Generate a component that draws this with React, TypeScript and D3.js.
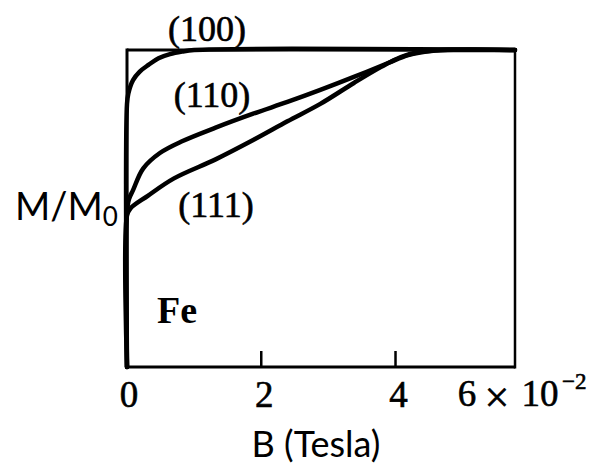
import React from "react";
import * as d3 from "d3";

// Data (B in units of 10^-2 Tesla, M/M0 dimensionless)
const B100 = [0, 0, 0.02, 0.09, 0.19, 0.32, 0.47, 0.64, 0.82, 1.0, 5.78];
const M100 = [0, 0.83, 0.863, 0.905, 0.932, 0.953, 0.974, 0.987, 0.995, 1.0, 1.0];

const B110 = [0, 0, 0.03, 0.09, 0.24, 0.49, 0.82, 1.32, 1.88, 2.39, 2.88, 3.38, 3.89, 4.19, 4.53, 4.98, 5.78];
const M110 = [0, 0.49, 0.53, 0.558, 0.626, 0.675, 0.712, 0.755, 0.799, 0.836, 0.874, 0.915, 0.959, 0.984, 0.997, 1.0, 1.0];

const B111 = [0, 0, 0.05, 0.31, 0.7, 1.32, 1.88, 2.39, 2.88, 3.38, 3.78, 4.08, 4.33, 4.7, 5.78];
const M111 = [0, 0.478, 0.5, 0.54, 0.595, 0.655, 0.716, 0.775, 0.83, 0.896, 0.946, 0.978, 0.993, 1.0, 1.0];

const curveLabels = ["(100)", "(110)", "(111)"];
const xTicks = [2, 4];
const xTickLabels = ["0", "2", "4"];
const xTickLabelValues = [0, 2, 4];
const sampleLabel = "Fe";
const xTitle = "B (Tesla)";

const W = 589;
const H = 468;

export default function App() {
  const x = d3.scaleLinear().domain([0, 5.78]).range([127, 515]);
  const y = d3.scaleLinear().domain([0, 1]).range([367, 50]);

  const line = d3
    .line<[number, number]>()
    .x((d) => x(d[0]))
    .y((d) => y(d[1]))
    .curve(d3.curveCatmullRom.alpha(0.5));

  const series = [
    B100.map((b, i) => [b, M100[i]] as [number, number]),
    B110.map((b, i) => [b, M110[i]] as [number, number]),
    B111.map((b, i) => [b, M111[i]] as [number, number]),
  ];

  const serif = "'Liberation Serif', 'Times New Roman', serif";
  const sans = "Lato, 'Open Sans', sans-serif";
  const heavy = { stroke: "#000", strokeWidth: 0.6 };

  const x0 = x(0), x1 = x(5.78), y0 = y(0), y1 = y(1);

  return (
    <svg
      width={W}
      height={H}
      style={{ position: "absolute", left: 0, top: 0, background: "#fff" }}
    >
      <rect x={0} y={0} width={W} height={H} fill="#fff" />
      {/* frame */}
      <line x1={x0} y1={y1} x2={x1} y2={y1} stroke="#000" strokeWidth={3} />
      <line x1={x1} y1={y1 - 1.5} x2={x1} y2={y0 + 1.5} stroke="#000" strokeWidth={2.5} />
      <line x1={x0} y1={y0} x2={x1} y2={y0} stroke="#000" strokeWidth={3} />
      <line x1={x0} y1={y1 - 1.5} x2={x0} y2={y0 + 1.5} stroke="#000" strokeWidth={3} />
      {/* ticks */}
      {xTicks.map((t) => (
        <line key={t} x1={x(t)} x2={x(t)} y1={y0} y2={y0 - 16} stroke="#000" strokeWidth={2.5} />
      ))}
      {/* curves */}
      {series.map((s, i) => (
        <path key={i} d={line(s) || ""} fill="none" stroke="#000" strokeWidth={4.5} strokeLinejoin="round" strokeLinecap="round" />
      ))}
      {/* curve labels */}
      <text x={207} y={41} fontFamily={serif} fontSize={36} textAnchor="middle" {...heavy}>{curveLabels[0]}</text>
      <text x={212} y={107} fontFamily={serif} fontSize={36} textAnchor="middle" {...heavy}>{curveLabels[1]}</text>
      <text x={216} y={217} fontFamily={serif} fontSize={36} textAnchor="middle" {...heavy}>{curveLabels[2]}</text>
      <text x={157} y={323} fontFamily={serif} fontSize={38} fontWeight="bold">{sampleLabel}</text>
      {/* tick labels */}
      {xTickLabelValues.map((v, i) => (
        <text key={v} x={x(v) + (i === 0 ? 2 : 3)} y={407} fontFamily={serif} fontSize={37} textAnchor="middle" {...heavy}>
          {xTickLabels[i]}
        </text>
      ))}
      <text x={467} y={406} fontFamily={serif} fontSize={37} textAnchor="middle" {...heavy}>6</text>
      <text x={497} y={412} fontFamily={serif} fontSize={44} textAnchor="middle" {...heavy}>×</text>
      <text x={540} y={406} fontFamily={serif} fontSize={37} textAnchor="middle" {...heavy}>10</text>
      <text x={562} y={389} fontFamily={serif} fontSize={23} {...heavy}>−2</text>
      {/* axis titles */}
      <text x={15} y={220} fontFamily={sans} fontSize={38}>
        M/M<tspan fontSize={26} dy={6}>0</tspan>
      </text>
      <text x={316} y={457} fontFamily={sans} fontSize={36} textAnchor="middle">{xTitle}</text>
    </svg>
  );
}
